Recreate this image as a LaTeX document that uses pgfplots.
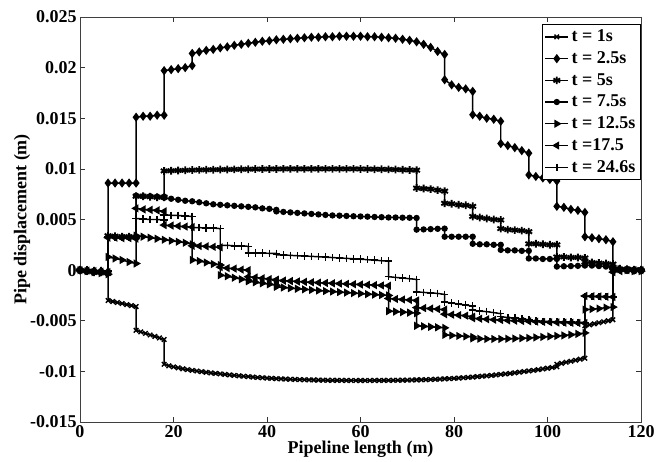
\documentclass[border=0pt]{standalone}
\usepackage{fontspec}
\setmainfont{Liberation Serif}
\usepackage{pgfplots}
\pgfplotsset{compat=1.18}

\begin{document}
\begin{tikzpicture}[font=\fontsize{13.5}{15}\selectfont\bfseries]
\begin{axis}[
  width=420.75pt, height=303.75pt, scale only axis,
  xmin=0, xmax=120, ymin=-0.015, ymax=0.025,
  xtick={0,20,...,120},
  ytick={-0.015,-0.01,-0.005,0,0.005,0.01,0.015,0.02,0.025},
  yticklabels={-0.015,-0.01,-0.005,0,0.005,0.01,0.015,0.02,0.025},
  scaled y ticks=false,
  tick align=inside, major tick length=4pt,
  tick style={black!80, line width=0.5pt},
  axis line style={black!75, line width=0.6pt},
  /pgf/number format/assume math mode=true,
  xticklabel style={yshift=1pt},
  yticklabel style={xshift=1pt},
  xlabel={Pipeline length (m)}, ylabel={Pipe displacement (m)},
  xlabel style={yshift=4pt},
  ylabel style={yshift=-7pt},
  legend style={at={(1,0.982)}, anchor=north east, draw=black, fill=white,
    line width=0.5pt, row sep=1.9pt, inner sep=2pt,
    font=\fontsize{13.5}{15}\selectfont\bfseries},
  legend cell align=left,
  every axis plot/.append style={black, line width=1.1pt, mark options={solid, fill=black}},
]
% t = 1s
\addplot[mark=x, mark size=2.4pt] coordinates {
(0,0)(1,-0.00005)(2,-0.0001)(3,-0.00015)(4,-0.0002)(5,-0.00025)(6,-0.0003)
(6,-0.0030)(7,-0.0031)(8,-0.0032)(9,-0.0033)(10,-0.0034)(11,-0.0035)(12,-0.0036)
(12,-0.00595)(13,-0.0061)(14,-0.00625)(15,-0.0064)(16,-0.00655)(17,-0.0067)(18,-0.00685)
(18,-0.0093)(19,-0.00945)(20,-0.00955)(21,-0.00965)(22,-0.00975)(23,-0.00983)(24,-0.0099)(25,-0.00997)(26,-0.01003)(27,-0.01009)(28,-0.01015)(29,-0.0102)(30,-0.01025)(31,-0.0103)(32,-0.01035)(33,-0.0104)(34,-0.01044)(35,-0.01048)(36,-0.01052)(37,-0.01056)(38,-0.0106)(39,-0.01063)(40,-0.01066)(41,-0.01069)(42,-0.01072)(43,-0.01074)(44,-0.01076)(45,-0.01078)(46,-0.0108)(47,-0.01082)(48,-0.01083)(49,-0.01084)(50,-0.01085)(51,-0.01086)(52,-0.01087)(53,-0.01088)(54,-0.01088)(55,-0.01089)(56,-0.01089)(57,-0.0109)(58,-0.0109)(59,-0.0109)(60,-0.0109)(61,-0.0109)(62,-0.0109)(63,-0.0109)(64,-0.0109)(65,-0.01089)(66,-0.01089)(67,-0.01088)(68,-0.01088)(69,-0.01087)(70,-0.01086)(71,-0.01085)(72,-0.01084)(73,-0.01083)(74,-0.01082)(75,-0.0108)(76,-0.01078)(77,-0.01076)(78,-0.01074)(79,-0.01072)(80,-0.01069)(81,-0.01066)(82,-0.01063)(83,-0.0106)(84,-0.01056)(85,-0.01052)(86,-0.01048)(87,-0.01044)(88,-0.0104)(89,-0.01035)(90,-0.0103)(91,-0.01025)(92,-0.0102)(93,-0.01014)(94,-0.01008)(95,-0.01002)(96,-0.00996)(97,-0.0099)(98,-0.00983)(99,-0.00976)(100,-0.00969)(101,-0.00962)(102,-0.00955)
(102,-0.0093)(103,-0.0092)(104,-0.0091)(105,-0.009)(106,-0.0089)(107,-0.0088)(108,-0.0087)
(108,-0.0055)(109,-0.0054)(110,-0.0053)(111,-0.0052)(112,-0.0051)(113,-0.005)(114,-0.0049)
(114,-0.0001)(115,0)(116,0.00005)(117,0.0001)(118,0.0001)(119,0.00005)(120,0)
};
\addlegendentry{t = 1s}
% t = 2.5s
\addplot[mark=diamond*, mark size=2.6pt] coordinates {
(0,0)(1.5,-0.00005)(3,-0.0001)(4.5,-0.0001)(6,-0.00015)
(6,0.0086)(7.5,0.0086)(9,0.0086)(10.5,0.0086)(12,0.0086)
(12,0.0151)(13.5,0.0152)(15,0.0152)(16.5,0.0153)(18,0.0153)
(18,0.0197)(19.5,0.0198)(21,0.0199)(22.5,0.02)(24,0.0202)
(24,0.0214)(25.5,0.02155)(27,0.0217)(28.5,0.0218)(30,0.02195)(31.5,0.02205)(33,0.0222)(34.5,0.0223)(36,0.0224)(37.5,0.0225)(39,0.0226)(40.5,0.02265)(42,0.02275)(43.5,0.0228)(45,0.02285)(46.5,0.0229)(48,0.02295)(49.5,0.023)(51,0.023)(52.5,0.02305)(54,0.02305)(55.5,0.0231)(57,0.0231)(58.5,0.0231)(60,0.0231)(61.5,0.02305)(63,0.02305)(64.5,0.023)(66,0.02295)(67.5,0.0229)(69,0.0228)(70.5,0.0227)(72,0.02255)(73.5,0.0223)(75,0.022)(76.5,0.0216)(78,0.0213)
(78,0.0188)(79.5,0.0183)(81,0.01805)(82.5,0.0179)(84,0.01765)
(84,0.01535)(85.5,0.0152)(87,0.015)(88.5,0.0149)(90,0.0147)
(90,0.0125)(91.5,0.0123)(93,0.0121)(94.5,0.0118)(96,0.01155)
(96,0.0094)(97.5,0.00925)(99,0.0091)(100.5,0.00895)(102,0.0088)
(102,0.0063)(103.5,0.0062)(105,0.006)(106.5,0.0059)(108,0.0057)
(108,0.0033)(109.5,0.0032)(111,0.0031)(112.5,0.003)(114,0.0028)
(114,0.0001)(115.5,0.0001)(117,0.00005)(118.5,0)(120,0)
};
\addlegendentry{t = 2.5s}
% t = 5s
\addplot[mark=asterisk, mark size=2.9pt, mark options={line width=1.4pt}] coordinates {
(0,0)(1.5,-0.0001)(3,-0.0002)(4.5,-0.0002)(6,-0.0003)
(6,0.0034)(7.5,0.00335)(9,0.0033)(10.5,0.0033)(12,0.00325)
(12,0.0073)(13.5,0.0073)(15,0.00725)(16.5,0.0072)(18,0.0072)
(18,0.0098)(19.5,0.00982)(21,0.00984)(22.5,0.00986)(24,0.00988)(25.5,0.0099)(27,0.00991)(28.5,0.00992)(30,0.00993)(31.5,0.00994)(33,0.00995)(34.5,0.00996)(36,0.00997)(37.5,0.00998)(39,0.00998)(40.5,0.00999)(42,0.00999)(43.5,0.01)(45,0.01)(46.5,0.01)(48,0.01)(49.5,0.01)(51,0.01)(52.5,0.01)(54,0.01)(55.5,0.01)(57,0.01)(58.5,0.01)(60,0.00999)(61.5,0.00998)(63,0.00997)(64.5,0.00996)(66,0.00995)(67.5,0.00993)(69,0.00991)(70.5,0.00989)(72,0.00987)
(72,0.0081)(73.5,0.00805)(75,0.008)(76.5,0.0079)(78,0.0078)
(78,0.0066)(79.5,0.00655)(81,0.00645)(82.5,0.0064)(84,0.0063)
(84,0.0053)(85.5,0.0052)(87,0.0051)(88.5,0.005)(90,0.00495)
(90,0.0041)(91.5,0.004)(93,0.00395)(94.5,0.0039)(96,0.0038)
(96,0.0026)(97.5,0.0026)(99,0.00255)(100.5,0.0025)(102,0.0025)
(102,0.0013)(103.5,0.0013)(105,0.00125)(106.5,0.00125)(108,0.0012)
(108,0.0008)(109.5,0.00075)(111,0.0007)(112.5,0.00065)(114,0.0006)
(114,0.0002)(115.5,0.0001)(117,0.00005)(118.5,0)(120,0)
};
\addlegendentry{t = 5s}
% t = 7.5s
\addplot[mark=*, mark size=1.8pt] coordinates {
(0,0)(1.5,-0.0001)(3,-0.00015)(4.5,-0.0002)(6,-0.00025)
(6,0.0033)(7.5,0.0033)(9,0.00325)(10.5,0.00325)(12,0.0032)
(12,0.00735)(13.5,0.0073)(15,0.0073)(16.5,0.00725)(18,0.00725)
(18,0.00715)(19.5,0.00705)(21,0.00695)(22.5,0.00685)(24,0.0068)(25.5,0.0067)(27,0.0066)(28.5,0.0065)(30,0.00645)(31.5,0.0064)(33,0.00635)(34.5,0.0063)(36,0.00625)(37.5,0.0062)(39,0.0061)(40.5,0.00605)(42,0.00595)
(42,0.0058)(43.5,0.00575)(45,0.0057)(46.5,0.00565)(48,0.0056)(49.5,0.00555)(51,0.0055)(52.5,0.00545)(54,0.0054)(55.5,0.00538)(57,0.00535)(58.5,0.00532)(60,0.0053)(61.5,0.00528)(63,0.00525)(64.5,0.00523)(66,0.0052)(67.5,0.0052)(69,0.00518)(70.5,0.00517)(72,0.00515)
(72,0.004)(73.5,0.00402)(75,0.00405)(76.5,0.00408)(78,0.0041)
(78,0.0033)(79.5,0.0033)(81,0.0033)(82.5,0.0033)(84,0.0033)
(84,0.0026)(85.5,0.00255)(87,0.00255)(88.5,0.0025)(90,0.0025)
(90,0.002)(91.5,0.00195)(93,0.00195)(94.5,0.0019)(96,0.0019)
(96,0.00115)(97.5,0.00115)(99,0.0011)(100.5,0.0011)(102,0.0011)
(102,0.00035)(103.5,0.00038)(105,0.0004)(106.5,0.00042)(108,0.00045)
(108,0.0005)(109.5,0.00045)(111,0.0004)(112.5,0.00035)(114,0.0003)
(114,0.0001)(115.5,0)(117,-0.00005)(118.5,-0.0001)(120,-0.0001)
};
\addlegendentry{t = 7.5s}
% t = 12.5s
\addplot[mark=triangle*, mark size=2.5pt, mark options={rotate=-90}] coordinates {
(0,0)(1.5,-0.0001)(3,-0.0002)(4.5,-0.0003)(6,-0.0004)
(6,0.0013)(7.5,0.00115)(9,0.001)(10.5,0.0008)(12,0.00065)
(12,0.0034)(13.5,0.0033)(15,0.0032)(16.5,0.0031)(18,0.003)(19.5,0.0029)(21,0.0028)(22.5,0.0027)(24,0.00255)
(24,0.001)(25.5,0.0009)(27,0.00075)(28.5,0.0006)(30,0.0005)
(30,-0.0005)(31.5,-0.0006)(33,-0.00075)(34.5,-0.0009)(36,-0.001)
(36,-0.0011)(37.5,-0.0012)(39,-0.0013)(40.5,-0.0014)(42,-0.0015)
(42,-0.00165)(43.5,-0.00172)(45,-0.00178)(46.5,-0.00184)(48,-0.0019)(49.5,-0.00196)(51,-0.00202)(52.5,-0.00207)(54,-0.00212)(55.5,-0.00217)(57,-0.00222)(58.5,-0.00227)(60,-0.00232)(61.5,-0.00237)(63,-0.00242)(64.5,-0.00246)(66,-0.0025)
(66,-0.00405)(67.5,-0.0041)(69,-0.00415)(70.5,-0.0042)(72,-0.00425)
(72,-0.0055)(73.5,-0.00555)(75,-0.0056)(76.5,-0.00565)(78,-0.0057)
(78,-0.0064)(79.5,-0.00645)(81,-0.0065)(82.5,-0.00655)(84,-0.0066)
(84,-0.00675)(85.5,-0.00678)(87,-0.0068)(88.5,-0.0068)(90,-0.0068)(91.5,-0.00678)(93,-0.00676)(94.5,-0.00673)(96,-0.0067)(97.5,-0.00665)(99,-0.0066)(100.5,-0.00655)(102,-0.0065)(103.5,-0.00645)(105,-0.00638)(106.5,-0.0063)(108,-0.0062)
(108,-0.0039)(109.5,-0.00385)(111,-0.0038)(112.5,-0.0037)(114,-0.00365)
(114,0.0002)(115.5,0.0001)(117,0)(118.5,-0.0001)(120,-0.0001)
};
\addlegendentry{t = 12.5s}
% t = 17.5
\addplot[mark=triangle*, mark size=2.5pt, mark options={rotate=90}] coordinates {
(0,0)(1.5,-0.00005)(3,-0.0001)(4.5,-0.00015)(6,-0.0002)
(6,0.0032)(7.5,0.0032)(9,0.00315)(10.5,0.00315)(12,0.0031)
(12,0.0061)(13.5,0.006)(15,0.00595)(16.5,0.0059)(18,0.0058)
(18,0.00445)(19.5,0.0044)(21,0.00435)(22.5,0.0043)(24,0.00425)
(24,0.0024)(25.5,0.00238)(27,0.00235)(28.5,0.0023)(30,0.00225)
(30,0.0003)(31.5,0.0002)(33,0.00015)(34.5,0.00005)(36,0)
(36,-0.00065)(37.5,-0.00072)(39,-0.0008)(40.5,-0.00088)(42,-0.00095)
(42,-0.001)(43.5,-0.00104)(45,-0.00108)(46.5,-0.00112)(48,-0.00116)(49.5,-0.0012)(51,-0.00124)(52.5,-0.00127)(54,-0.0013)(55.5,-0.00133)(57,-0.00136)(58.5,-0.00139)(60,-0.00142)(61.5,-0.00145)(63,-0.00148)(64.5,-0.00151)(66,-0.00154)
(66,-0.0028)(67.5,-0.00285)(69,-0.0029)(70.5,-0.00295)(72,-0.003)
(72,-0.0037)(73.5,-0.00375)(75,-0.0038)(76.5,-0.00385)(78,-0.0039)
(78,-0.00435)(79.5,-0.0044)(81,-0.00445)(82.5,-0.0045)(84,-0.0046)
(84,-0.00475)(85.5,-0.0048)(87,-0.00485)(88.5,-0.0049)(90,-0.00493)(91.5,-0.00497)(93,-0.005)(94.5,-0.00503)(96,-0.00506)(97.5,-0.00509)(99,-0.00512)(100.5,-0.00515)(102,-0.00517)(103.5,-0.00519)(105,-0.0052)(106.5,-0.00522)(108,-0.00523)
(108,-0.00255)(109.5,-0.00258)(111,-0.0026)(112.5,-0.00263)(114,-0.00265)
(114,-0.0002)(115.5,-0.0001)(117,0)(118.5,0)(120,0)
};
\addlegendentry{t =17.5}
% t = 24.6s
\addplot[mark=+, mark size=2.8pt] coordinates {
(0,0)(1.5,0)(3,-0.00005)(4.5,-0.0001)(6,-0.0001)
(6,0.0033)(7.5,0.00325)(9,0.00325)(10.5,0.0032)(12,0.0032)
(12,0.0051)(13.5,0.00505)(15,0.005)(16.5,0.005)(18,0.00495)
(18,0.00545)(19.5,0.00542)(21,0.0054)(22.5,0.00535)(24,0.0053)
(24,0.0042)(25.5,0.0042)(27,0.00415)(28.5,0.00415)(30,0.0041)
(30,0.00245)(31.5,0.00245)(33,0.0024)(34.5,0.0024)(36,0.00235)
(36,0.0017)(37.5,0.0017)(39,0.00168)(40.5,0.00166)(42,0.00165)
(42,0.00152)(43.5,0.00149)(45,0.00146)(46.5,0.00142)(48,0.00139)(49.5,0.00136)(51,0.00132)(52.5,0.00128)(54,0.00124)(55.5,0.0012)(57,0.00116)(58.5,0.00112)(60,0.00108)(61.5,0.00103)(63,0.00098)(64.5,0.00093)(66,0.00088)
(66,-0.00065)(67.5,-0.00072)(69,-0.00078)(70.5,-0.00085)(72,-0.00092)
(72,-0.00215)(73.5,-0.0022)(75,-0.00225)(76.5,-0.0023)(78,-0.0024)
(78,-0.00315)(79.5,-0.00325)(81,-0.00335)(82.5,-0.00345)(84,-0.00355)
(84,-0.00395)(85.5,-0.00405)(87,-0.0041)(88.5,-0.0042)(90,-0.0043)
(90,-0.0046)(91.5,-0.00468)(93,-0.00475)(94.5,-0.00482)(96,-0.0049)
(96,-0.005)(97.5,-0.00503)(99,-0.00506)(100.5,-0.00508)(102,-0.0051)
(102,-0.0051)(103.5,-0.00512)(105,-0.00514)(106.5,-0.00516)(108,-0.00518)
(108,-0.0026)(109.5,-0.0026)(111,-0.00262)(112.5,-0.00262)(114,-0.00265)
(114,0.0002)(115.5,0.0001)(117,0.00005)(118.5,0)(120,0)
};
\addlegendentry{t = 24.6s}
\end{axis}
\pgfresetboundingbox
\path ([xshift=-60pt,yshift=-30pt]current axis.south west) rectangle ([xshift=19.5pt,yshift=12.75pt]current axis.north east);
\end{tikzpicture}
\end{document}
